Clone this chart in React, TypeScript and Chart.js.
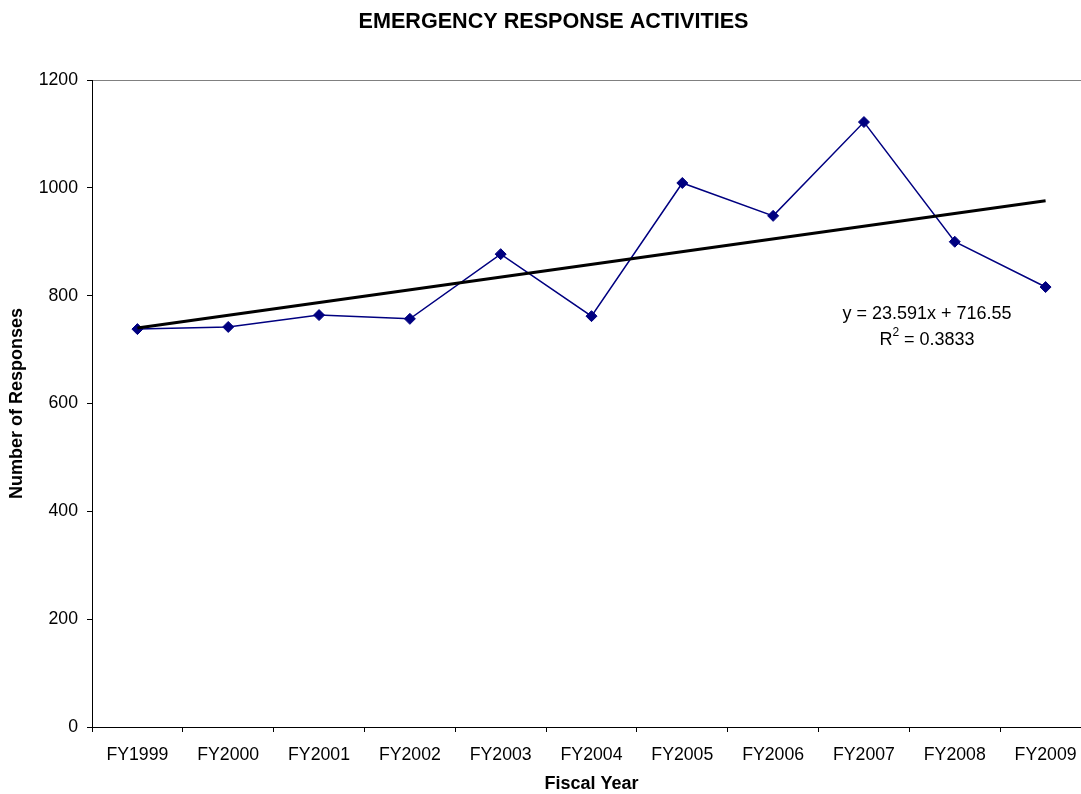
import React, { useEffect, useRef } from "react";
import { Chart, registerables } from "chart.js";

Chart.register(...registerables);

const categories = ["FY1999", "FY2000", "FY2001", "FY2002", "FY2003", "FY2004", "FY2005", "FY2006", "FY2007", "FY2008", "FY2009"];
const responses = [738, 742, 764, 757, 877, 762, 1009, 948, 1122, 900, 816];
const trendSlope = 23.591;
const trendIntercept = 716.55;
const rSquared = "0.3833";
const yTicks = [0, 200, 400, 600, 800, 1000, 1200];

const chartTitle = "EMERGENCY RESPONSE ACTIVITIES";
const xTitle = "Fiscal Year";
const yTitle = "Number of Responses";

const FONT = '"Liberation Sans", Arial, Helvetica, sans-serif';
const CW = 1107;
const CH = 794;
const AREA = { left: 92, top: 80, right: 1091, bottom: 727 };

export default function App() {
  const ref = useRef<HTMLCanvasElement | null>(null);

  useEffect(() => {
    if (!ref.current) return;
    const n = categories.length;
    const trendData = categories.map((_, i) =>
      i === 0 || i === n - 1 ? trendSlope * (i + 1) + trendIntercept : null
    );

    const textPlugin = {
      id: "textPlugin",
      beforeDraw(chart: any) {
        const ctx = chart.ctx;
        const a = chart.chartArea;
        ctx.save();
        ctx.strokeStyle = "#808080";
        ctx.lineWidth = 1;
        ctx.strokeRect(Math.round(a.left) + 0.5, Math.round(a.top) + 0.5, Math.round(a.right - a.left), Math.round(a.bottom - a.top));
        ctx.restore();
      },
      afterDraw(chart: any) {
        const ctx = chart.ctx;
        const a = chart.chartArea;
        ctx.save();
        ctx.fillStyle = "#000";
        ctx.textAlign = "center";
        ctx.textBaseline = "middle";
        ctx.font = `bold 21.6px ${FONT}`;
        ctx.fillText(chartTitle, 553.5, 22);
        ctx.font = `bold 18px ${FONT}`;
        ctx.fillText(xTitle, (a.left + a.right) / 2, 784);
        ctx.save();
        ctx.translate(17, (a.top + a.bottom) / 2);
        ctx.rotate(-Math.PI / 2);
        ctx.fillText(yTitle, 0, 0);
        ctx.restore();

        // trendline equation
        const eq = `y = ${trendSlope}x + ${trendIntercept}`;
        const cx = 927;
        ctx.font = `18px ${FONT}`;
        ctx.fillText(eq, cx, 314);
        const partR = "R";
        const partRest = ` = ${rSquared}`;
        ctx.font = `18px ${FONT}`;
        const wR = ctx.measureText(partR).width;
        const wRest = ctx.measureText(partRest).width;
        ctx.font = `12px ${FONT}`;
        const w2 = ctx.measureText("2").width;
        const total = wR + w2 + wRest;
        let x = cx - total / 2;
        ctx.textAlign = "left";
        ctx.font = `18px ${FONT}`;
        ctx.fillText(partR, x, 340);
        x += wR;
        ctx.font = `12px ${FONT}`;
        ctx.fillText("2", x, 333);
        x += w2;
        ctx.font = `18px ${FONT}`;
        ctx.fillText(partRest, x, 340);
        ctx.restore();
      },
    };

    const chart = new Chart(ref.current, {
      type: "line",
      data: {
        labels: categories,
        datasets: [
          {
            label: "Responses",
            data: responses,
            borderColor: "#000080",
            backgroundColor: "#000080",
            borderWidth: 1.5,
            pointStyle: "rectRot",
            pointRadius: 5.5,
            pointBorderWidth: 1,
            pointBackgroundColor: "#000080",
            pointBorderColor: "#000080",
            tension: 0,
            order: 2,
          },
          {
            label: "Trend",
            data: trendData,
            borderColor: "#000000",
            borderWidth: 3,
            pointRadius: 0,
            spanGaps: true,
            tension: 0,
            order: 1,
          },
        ],
      },
      options: {
        responsive: false,
        animation: false,
        devicePixelRatio: 1,
        layout: { padding: { top: AREA.top, right: CW - AREA.right, bottom: 0, left: 0 } },
        font: { family: FONT },
        plugins: { legend: { display: false }, title: { display: false }, tooltip: { enabled: false } },
        scales: {
          x: {
            type: "category",
            offset: true,
            grid: { display: true, offset: true, drawOnChartArea: false, drawTicks: true, tickLength: 5, color: "#000" },
            border: { display: true, color: "#000", width: 1 },
            ticks: { color: "#000", font: { family: FONT, size: 17.7 }, padding: 12, maxRotation: 0, autoSkip: false },
            afterFit: (s: any) => { s.height = CH - AREA.bottom; },
          },
          y: {
            min: 0,
            max: 1200,
            afterBuildTicks: (s: any) => { s.ticks = yTicks.map((v) => ({ value: v })); },
            grid: { display: true, drawOnChartArea: false, drawTicks: true, tickLength: 5, color: "#000" },
            border: { display: true, color: "#000", width: 1 },
            ticks: { color: "#000", font: { family: FONT, size: 17.7 }, padding: 9, callback: (v: any) => String(v) },
            afterFit: (s: any) => { s.width = AREA.left; },
          },
        },
      } as any,
      plugins: [textPlugin],
    });
    return () => chart.destroy();
  }, []);

  return (
    <div style={{ position: "fixed", left: 0, top: 0, width: 1081, height: 794, overflow: "hidden", background: "#fff" }}>
      <canvas ref={ref} width={CW} height={CH} style={{ display: "block", width: CW, height: CH }} />
    </div>
  );
}
